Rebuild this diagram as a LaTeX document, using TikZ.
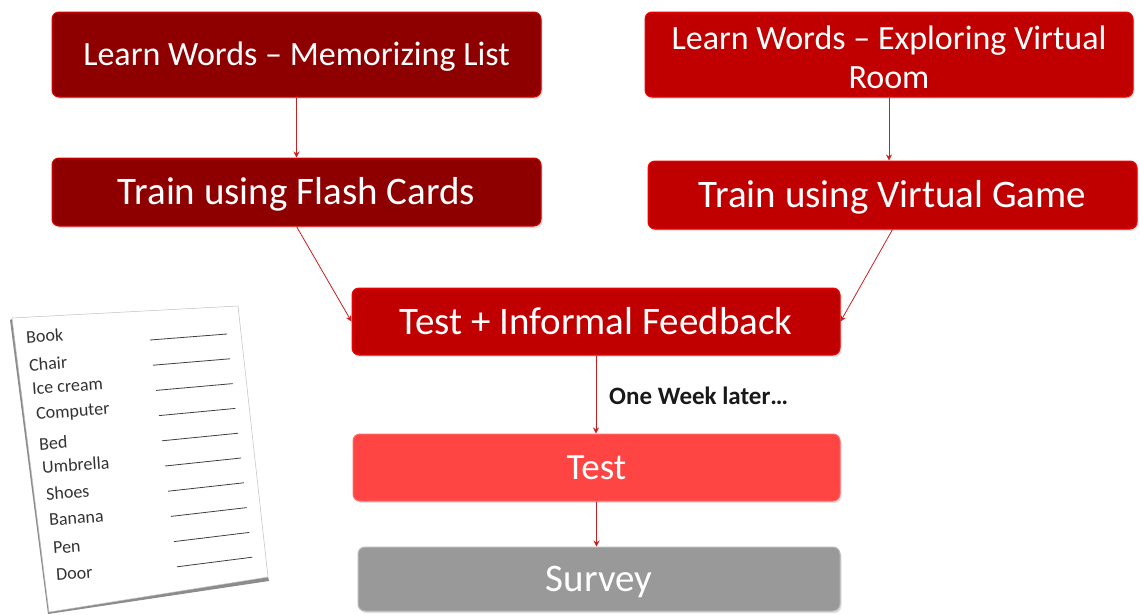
\documentclass[tikz,border=0pt]{standalone}
\usepackage{fontspec}
\setmainfont{Carlito}
\usetikzlibrary{arrows.meta,shadows}
\definecolor{darkred}{HTML}{8E0000}
\definecolor{midred}{HTML}{C00000}
\definecolor{lightred}{HTML}{FF4444}
\definecolor{survgray}{HTML}{999999}
\definecolor{arrred}{HTML}{C62020}
\tikzset{
  box/.style={rounded corners=7pt, text=white, align=center, inner sep=0pt,
    drop shadow={opacity=0.25, shadow xshift=1.5pt, shadow yshift=-2pt}},
  big/.style={font=\fontsize{39}{44}\selectfont, text height=33.5pt, text depth=8.4pt},
  mid/.style={font=\fontsize{34}{39}\selectfont, text height=29.2pt, text depth=7.3pt},
  boxdark/.style={box, fill=darkred, draw=red!70!darkred, line width=1pt},
  boxmid/.style={box, fill=midred, draw=red!85!midred, line width=1pt},
  boxlight/.style={box, fill=lightred, draw=lightred!80!white, line width=1pt},
  boxgray/.style={box, fill=survgray, draw=survgray!70!white, line width=1pt},
  arr/.style={draw=arrred, line width=0.8pt, -{Stealth[length=6pt,width=6pt]}},
  word/.style={anchor=west, font=\fontsize{18}{20}\selectfont, text=black!80, rotate=4, inner sep=0pt},
  rule/.style={draw=black!75, line width=0.8pt}
}
\begin{document}
\begin{tikzpicture}[x=1pt,y=-1pt]
\useasboundingbox (0,0) rectangle (1140,614);
% boxes
\node[boxdark, mid, minimum width=489pt, minimum height=85pt] (b1) at (296.5,54.5) {Learn Words – Memorizing List};
\node[boxdark, big, minimum width=489pt, minimum height=68pt] (b2) at (296.5,192) {Train using Flash Cards};
\node[boxmid, minimum width=488pt, minimum height=85pt, font=\fontsize{34}{39}\selectfont] (b3) at (889,54.5) {\rule{0pt}{29.5pt}Learn Words – Exploring Virtual\\Room};
\node[boxmid, big, minimum width=489pt, minimum height=68pt] (b4) at (892.5,195) {Train using Virtual Game};
\node[boxmid, big, minimum width=488pt, minimum height=67pt] (b5) at (596,321.5) {Test + Informal Feedback};
\node[boxlight, minimum width=487pt, minimum height=67pt, font=\fontsize{37}{42}\selectfont, text height=31.8pt, text depth=8pt] (b6) at (596.5,467.5) {Test};
\node[boxgray, big, minimum width=482pt, minimum height=64pt] (b7) at (599,579) {Survey};
% connectors
\draw[arr] (b1.south) -- (b1.south |- b2.north);
\draw[arr] (b3.south) -- (b3.south |- b4.north);
\draw[arr] (b2.south) -- (b5.west);
\draw[arr] (b4.south) -- (b5.east);
\draw[arr] (b5.south) -- (b5.south |- b6.north);
\draw[arr] (b6.south) -- (b6.south |- b7.north);
\node[anchor=west, font=\bfseries\fontsize{25}{29}\selectfont, text=black!90, inner sep=0pt] (lbl) at (609,396) {One Week later…};
% paper with word list
\fill[black!45] (10,320) -- (14,318) -- (51,610) -- (268,577) -- (269,581) -- (48,614) -- cycle;
\filldraw[fill=white, draw=black!25, line width=0.5pt] (12,318) -- (238,306) -- (268,577) -- (49,612) -- cycle;
\node[word] (w1) at (26,337) {Book};
\node[word] (w2) at (29,365) {Chair};
\node[word] (w3) at (32,389) {Ice cream};
\node[word] (w4) at (36,415) {Computer};
\node[word] (w5) at (39,444) {Bed};
\node[word] (w6) at (42,467) {Umbrella};
\node[word] (w7) at (46,494) {Shoes};
\node[word] (w8) at (49,520) {Banana};
\node[word] (w9) at (53,548) {Pen};
\node[word] (w10) at (56,575) {Door};
\foreach \i in {0,...,9}{
  \draw[rule] (150+3*\i, 340+25.2*\i) -- (227+2.8*\i, 334+24.8*\i);
}
\end{tikzpicture}
\end{document}
